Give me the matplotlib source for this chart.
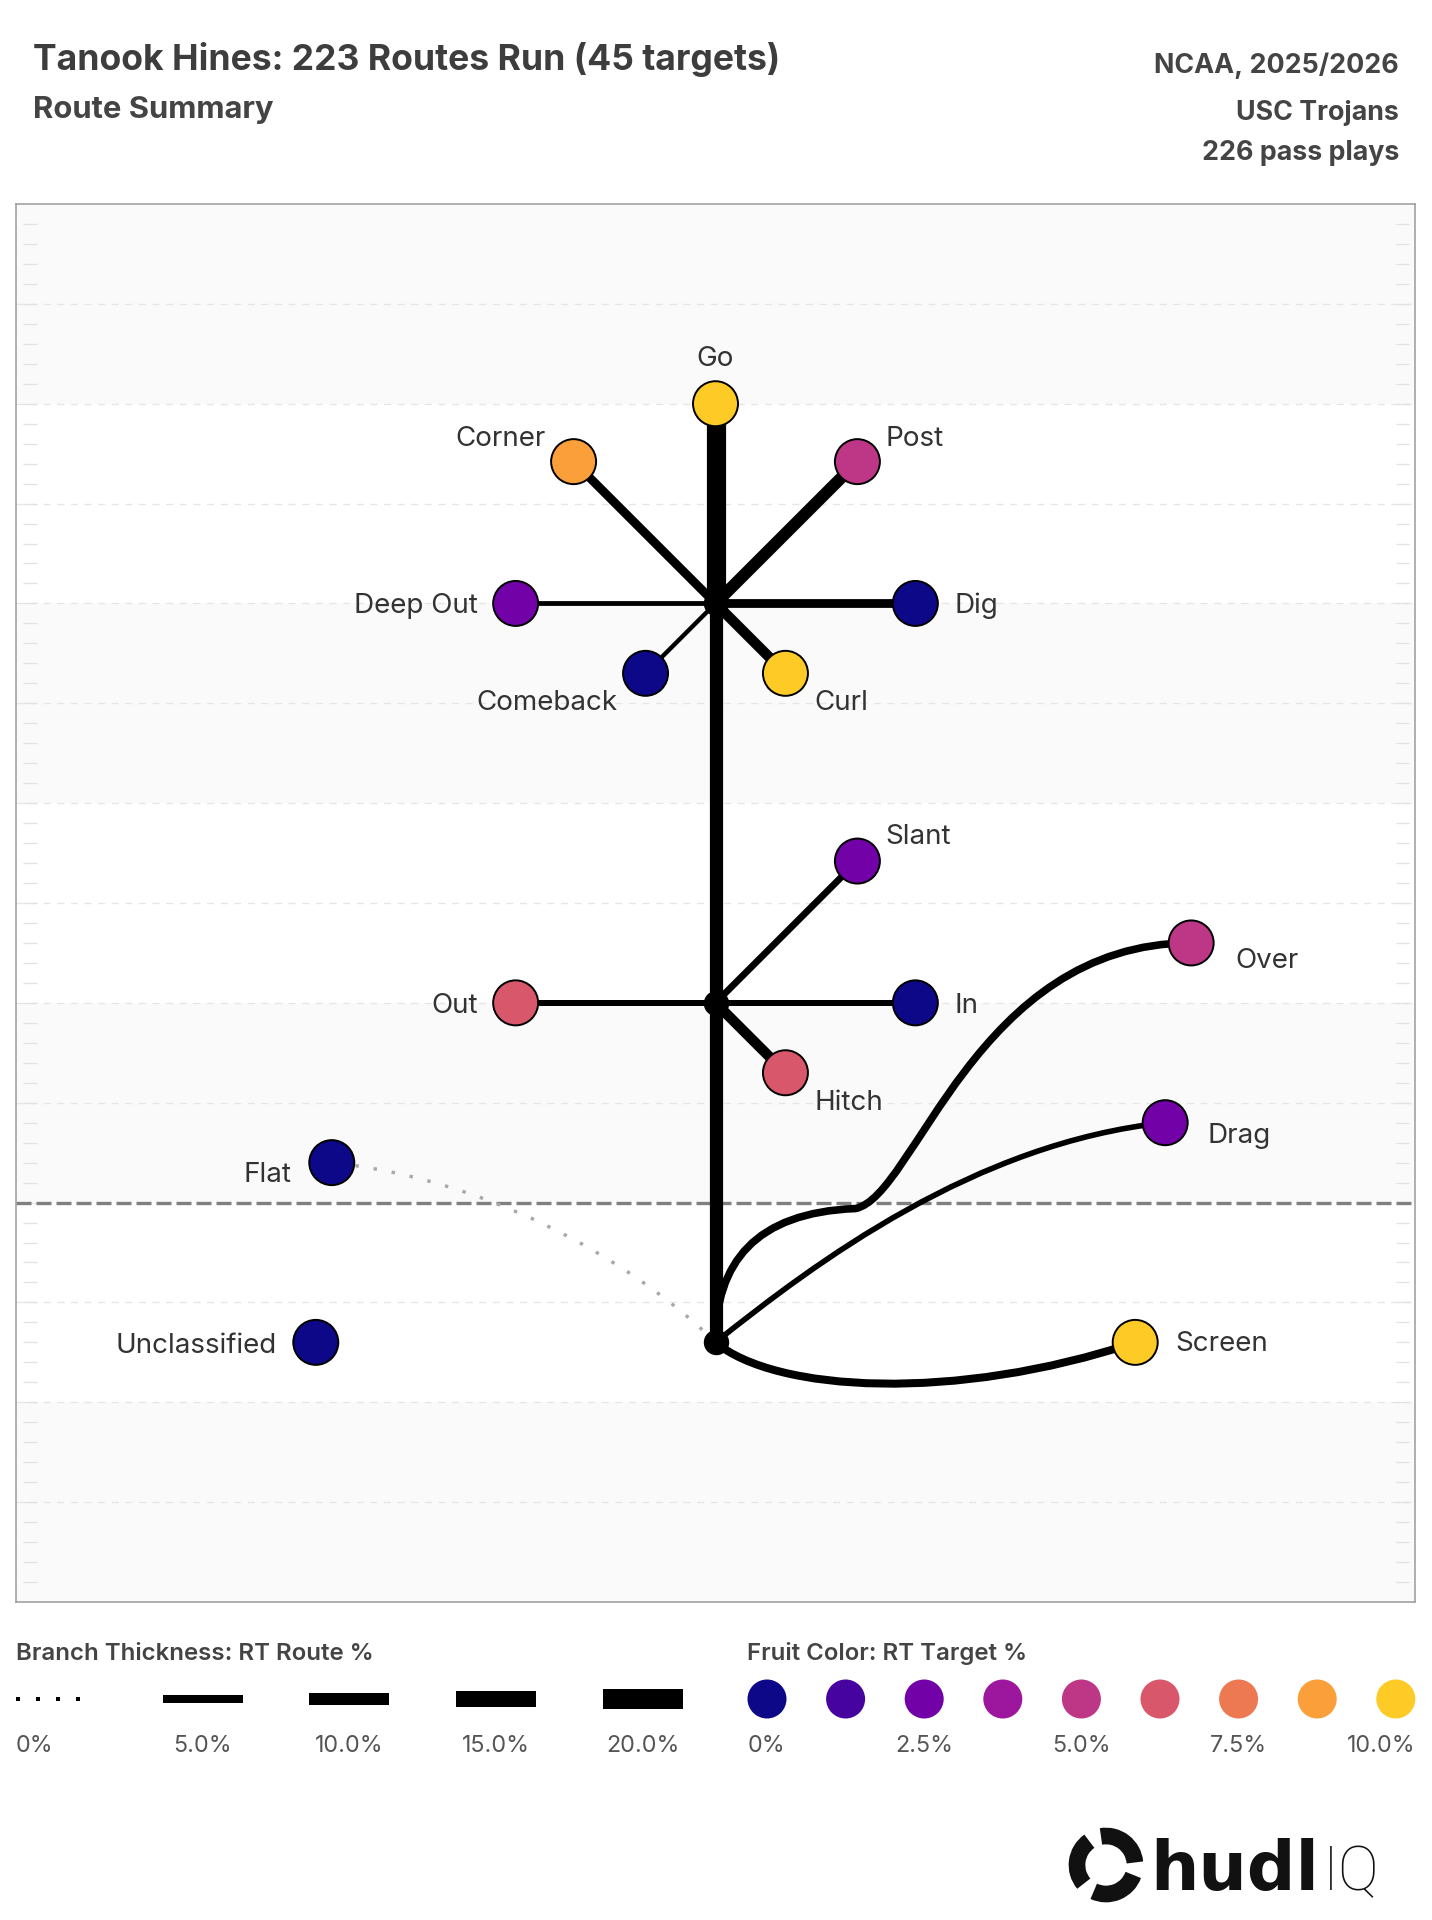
import matplotlib
matplotlib.use('Agg')
import matplotlib.pyplot as plt
from matplotlib.path import Path
from matplotlib.patches import PathPatch, Circle, Arc

plt.rcParams['font.family'] = ['Inter', 'DejaVu Sans']

# ---- data (yards; x = lateral, y = downfield, LOS at 0) ----
routes = ['Go', 'Corner', 'Post', 'Deep Out', 'Dig', 'Comeback', 'Curl',
          'Slant', 'Out', 'In', 'Hitch', 'Over', 'Drag', 'Screen', 'Flat', 'Unclassified']
route_pct = [19, 6, 10, 1, 6, 0.5, 8, 3.5, 2.5, 2.5, 8, 4.5, 2, 5, 0, 0]
target_pct = [10.5, 8.75, 5, 2.5, 0, 0, 10, 2.5, 6.25, 0, 6.25, 5, 2.5, 10, 0, 0]
end_x = [0, -7.1, 7.1, -10, 10, -3.5, 3.5, 7.1, -10, 10, 3.5, 23.8, 22.5, 21, -19.2, -20]
end_y = [40, 37.1, 37.1, 30, 30, 26.5, 26.5, 17.1, 10, 10, 6.5, 13, 4, -7, 2, -7]
start_y = [30, 30, 30, 30, 30, 30, 30, 10, 10, 10, 10, -7, -7, -7, -7, None]

stem_nodes = [-7, 10, 30]
stem_pct = 11.5

# bezier control points for the curved routes (start -> end)
curve_ctrl = {
    'Over': [(0, -7), (0, -3), (2, -0.5), (7, -0.3), (10, 0.3), (13, 13), (23.8, 13)],
    'Drag': [(0, -7), (5, -3), (13, 3), (22.5, 4)],
    'Screen': [(0, -7), (3, -9.5), (12, -10), (21, -7)],
    'Flat': [(0, -7), (-3, -4), (-10, 1), (-19.2, 2)],
}

thick_legend = [0, 5, 10, 15, 20]
thick_labels = ['0%', '5.0%', '10.0%', '15.0%', '20.0%']
fruit_legend = [0, 1.25, 2.5, 3.75, 5, 6.25, 7.5, 8.75, 10]
fruit_labels = ['0%', '', '2.5%', '', '5.0%', '', '7.5%', '', '10.0%']

PLASMA = ['#0d0887', '#46039f', '#7201a8', '#9c179e', '#bd3786',
          '#d8576b', '#ed7953', '#fb9f3a', '#fdca26']
DPI = 100
PT = 72 / DPI


def fruit_color(p):
    return PLASMA[min(int(round(p / 1.25)), 8)]


def width_pt(p):
    return (4 + 0.8 * p) * PT


# label offsets in pixels (dx, dy down to baseline, alignment)
label_pos = {
    'Go': (0, -38, 'center'), 'Corner': (-28, -16, 'right'), 'Post': (28, -16, 'left'),
    'Deep Out': (-38, 10, 'right'), 'Dig': (39, 10, 'left'),
    'Comeback': (-28, 37, 'right'), 'Curl': (29, 37, 'left'),
    'Slant': (28, -17, 'left'), 'Out': (-38, 10, 'right'), 'In': (39, 10, 'left'),
    'Hitch': (29, 37, 'left'), 'Over': (44, 25, 'left'), 'Drag': (42, 20, 'left'),
    'Screen': (40, 9, 'left'), 'Flat': (-40, 19, 'right'), 'Unclassified': (-39, 11, 'right'),
}

fig = plt.figure(figsize=(1432 / DPI, 1920 / DPI), dpi=DPI)
fig.patch.set_facecolor('white')

# background overlay in pixel coordinates for titles and legends
bg = fig.add_axes([0, 0, 1, 1], zorder=0)
bg.set_xlim(0, 1432)
bg.set_ylim(1920, 0)
bg.axis('off')

ax = fig.add_axes([16 / 1432, (1920 - 1602) / 1920, 1399 / 1432, 1398 / 1920], zorder=1)
ax.set_xlim(-35, 35)
ax.set_ylim(-20, 50)
ax.set_xticks([])
ax.set_yticks([])
for s in ax.spines.values():
    s.set_color('#9a9a9a')
    s.set_linewidth(1.1)

# field bands
for y0 in [40, 20, 0, -20]:
    ax.axhspan(y0, y0 + 10, color='#fafafa', lw=0, zorder=0)
# yard grid
for gy in range(-15, 50, 5):
    if gy == 0:
        continue
    ax.axhline(gy, color='#e6e6e6', lw=1.0, linestyle=(0, (5, 4.8)), zorder=1)
ticks = list(range(-19, 50))
ax.hlines(ticks, -34.65, -33.95, color='#e2e2e2', lw=0.95, zorder=1)
ax.hlines(ticks, 34.05, 34.7, color='#e2e2e2', lw=0.95, zorder=1)
# line of scrimmage
ax.axhline(0, color='#808080', lw=2.4, linestyle=(0, (4.5, 1.5)), zorder=2)

# stem
ax.plot([0, 0], [min(stem_nodes), max(stem_nodes)], color='black',
        lw=width_pt(stem_pct), solid_capstyle='butt', zorder=3)

# branches
for name, p, x1, y1, y0 in zip(routes, route_pct, end_x, end_y, start_y):
    if y0 is None:
        continue
    if name in curve_ctrl:
        pts = curve_ctrl[name]
        codes = [Path.MOVETO] + [Path.CURVE4] * (len(pts) - 1)
        if p == 0:
            patch = PathPatch(Path(pts, codes), facecolor='none', edgecolor='#a8a8a8',
                              lw=3.4 * PT, linestyle=(0, (1, 4.4)), capstyle='butt', zorder=3)
        else:
            patch = PathPatch(Path(pts, codes), facecolor='none', edgecolor='black',
                              lw=width_pt(p), capstyle='butt', zorder=3)
        ax.add_patch(patch)
    else:
        ax.plot([0, x1], [y0, y1], color='black', lw=width_pt(p),
                solid_capstyle='butt', zorder=3)

# junction nodes
ax.scatter([0] * len(stem_nodes), stem_nodes, s=(24 * PT) ** 2, color='black', zorder=4)

# fruit
ax.scatter(end_x, end_y, s=(45 * PT) ** 2, c=[fruit_color(t) for t in target_pct],
           edgecolors='black', linewidths=1.4, zorder=5)

for name, x1, y1 in zip(routes, end_x, end_y):
    dx, dy, ha = label_pos[name]
    ax.annotate(name, (x1, y1), xytext=(dx, -dy), textcoords='offset pixels',
                ha=ha, va='baseline', fontsize=20, color='#333333', zorder=6)

# titles
bg.text(33, 70, 'Tanook Hines: 223 Routes Run (45 targets)', fontsize=25.6,
        fontweight='bold', color='#3d3d3d', va='baseline')
bg.text(33, 118, 'Route Summary', fontsize=22.3, fontweight='bold',
        color='#444444', va='baseline')
for txt, yb in zip(['NCAA, 2025/2026', 'USC Trojans', '226 pass plays'], [73, 120, 160]):
    bg.text(1399, yb, txt, fontsize=19.3, fontweight='bold', color='#444444',
            ha='right', va='baseline')

# legend: branch thickness
LBL = 16.8
bg.text(16, 1660, 'Branch Thickness: RT Route %', fontsize=17.3, fontweight='semibold',
        color='#444444', va='baseline')
for i, (p, lab) in enumerate(zip(thick_legend, thick_labels)):
    x0 = 16 + i * 146.7
    if p == 0:
        bg.plot([x0, x0 + 64], [1699, 1699], color='black', lw=4 * PT,
                linestyle=(0, (1, 4)), dash_capstyle='butt')
        bg.text(x0, 1752, lab, fontsize=LBL, color='#555555', ha='left', va='baseline')
    else:
        bg.plot([x0, x0 + 80], [1699, 1699], color='black', lw=width_pt(p),
                solid_capstyle='butt')
        bg.text(x0 + 40, 1752, lab, fontsize=LBL, color='#555555', ha='center', va='baseline')

# legend: fruit colour
bg.text(747, 1660, 'Fruit Color: RT Target %', fontsize=17.3, fontweight='semibold',
        color='#444444', va='baseline')
n = len(fruit_legend)
for i, (p, lab) in enumerate(zip(fruit_legend, fruit_labels)):
    cx = 767 + i * 78.6
    bg.add_patch(Circle((cx, 1699), 19.5, color=fruit_color(p), lw=0))
    if not lab:
        continue
    if i == 0:
        bg.text(cx - 19.5, 1752, lab, fontsize=LBL, color='#555555', ha='left', va='baseline')
    elif i == n - 1:
        bg.text(cx + 19.5, 1752, lab, fontsize=LBL, color='#555555', ha='right', va='baseline')
    else:
        bg.text(cx, 1752, lab, fontsize=LBL, color='#555555', ha='center', va='baseline')

# hudl IQ mark
for a0 in [20, 140, 260]:
    bg.add_patch(Arc((1106, 1865), 58, 58, theta1=a0, theta2=a0 + 95, lw=12, color='#111111'))
bg.text(1150, 1890, 'hudl', fontsize=49, fontweight='bold', family=['DejaVu Sans'],
        color='#111111', va='baseline')
bg.text(1323, 1890, 'IQ', fontsize=44, fontweight='light', family=['Roboto', 'DejaVu Sans'],
        color='#111111', va='baseline')

fig.savefig('out.png', dpi=DPI)
